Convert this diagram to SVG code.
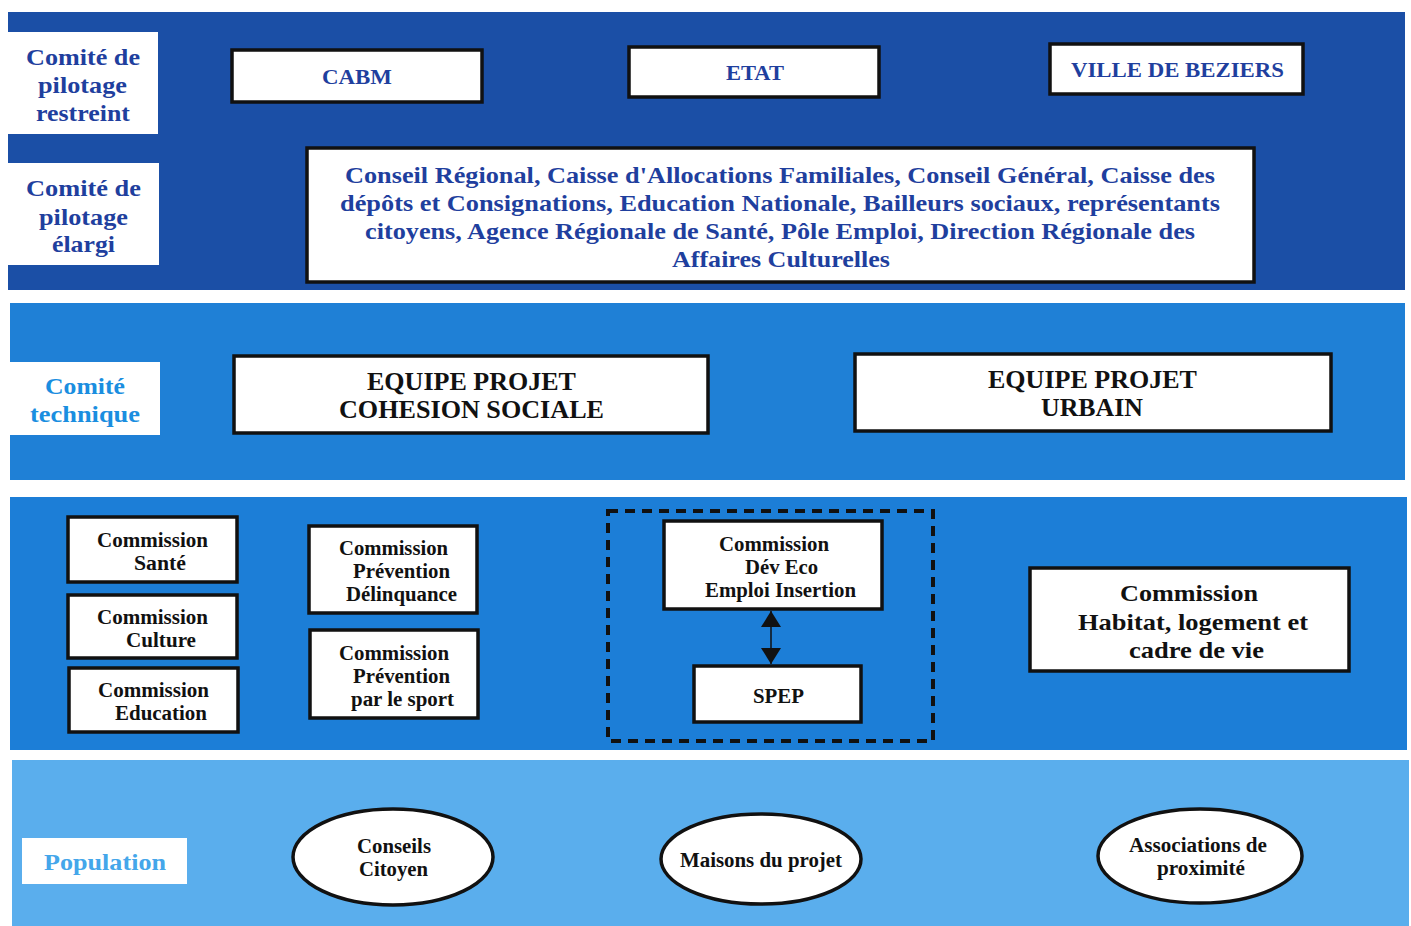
<svg xmlns="http://www.w3.org/2000/svg" width="1411" height="926" viewBox="0 0 1411 926">
<style>
.t{font-family:"Liberation Serif","Times New Roman",serif;font-weight:bold}
.bl{fill:#1f3f9e}
.bk{fill:#111}
.box{fill:#fff;stroke:#111;stroke-width:3.5}
.lab{fill:#fff}
</style>
<defs>
<marker id="ah" viewBox="0 0 10 10" refX="10" refY="5" markerWidth="16" markerHeight="20" markerUnits="userSpaceOnUse" orient="auto-start-reverse" preserveAspectRatio="none">
<path d="M0,0 L10,5 L0,10 z" fill="#111"/>
</marker>
</defs>
<rect width="1411" height="926" fill="#fff"/>
<g id="bands">
<rect x="8" y="12" width="1397" height="278" fill="#1b4fa6"/>
<rect x="10" y="303" width="1395" height="177" fill="#1f80d6"/>
<rect x="10" y="497" width="1397" height="253" fill="#1c7ed7"/>
<rect x="12" y="760" width="1397" height="166" fill="#5aaeed"/>
</g>
<g id="label-restreint">
<rect class="lab" x="8" y="32" width="150" height="102"/>
<text class="t bl" font-size="23"><tspan x="26" y="65" textLength="114" lengthAdjust="spacingAndGlyphs">Comité de</tspan><tspan x="38" y="93" textLength="89" lengthAdjust="spacingAndGlyphs">pilotage</tspan><tspan x="36" y="121" textLength="94" lengthAdjust="spacingAndGlyphs">restreint</tspan></text>
</g>
<g id="label-elargi">
<rect class="lab" x="8" y="163" width="151" height="102"/>
<text class="t bl" font-size="23"><tspan x="26" y="196" textLength="115" lengthAdjust="spacingAndGlyphs">Comité de</tspan><tspan x="39" y="225" textLength="89" lengthAdjust="spacingAndGlyphs">pilotage</tspan><tspan x="52" y="252" textLength="63" lengthAdjust="spacingAndGlyphs">élargi</tspan></text>
</g>
<g id="cabm">
<rect class="box" x="232" y="50" width="250" height="52"/>
<text class="t bl" font-size="21" x="322" y="84" textLength="70" lengthAdjust="spacingAndGlyphs">CABM</text>
</g>
<g id="etat">
<rect class="box" x="629" y="47" width="250" height="50"/>
<text class="t bl" font-size="21" x="726" y="80" textLength="58" lengthAdjust="spacingAndGlyphs">ETAT</text>
</g>
<g id="ville">
<rect class="box" x="1050" y="44" width="253" height="50"/>
<text class="t bl" font-size="21" x="1071" y="77" textLength="213" lengthAdjust="spacingAndGlyphs">VILLE DE BEZIERS</text>
</g>
<g id="partenaires">
<rect class="box" x="307" y="148" width="947" height="134"/>
<text class="t bl" font-size="23"><tspan x="345" y="183" textLength="870" lengthAdjust="spacingAndGlyphs">Conseil Régional, Caisse d'Allocations Familiales, Conseil Général, Caisse des</tspan><tspan x="340" y="211" textLength="880" lengthAdjust="spacingAndGlyphs">dépôts et Consignations, Education Nationale, Bailleurs sociaux, représentants</tspan><tspan x="365" y="239" textLength="830" lengthAdjust="spacingAndGlyphs">citoyens, Agence Régionale de Santé, Pôle Emploi, Direction Régionale des</tspan><tspan x="672" y="267" textLength="218" lengthAdjust="spacingAndGlyphs">Affaires Culturelles</tspan></text>
</g>
<g id="label-technique">
<rect class="lab" x="10" y="362" width="150" height="73"/>
<text class="t" fill="#1a8ee0" font-size="23"><tspan x="45" y="394" textLength="80" lengthAdjust="spacingAndGlyphs">Comité</tspan><tspan x="30" y="422" textLength="110" lengthAdjust="spacingAndGlyphs">technique</tspan></text>
</g>
<g id="equipe-cohesion">
<rect class="box" x="234" y="356" width="474" height="77"/>
<text class="t bk" font-size="25"><tspan x="367" y="390" textLength="209" lengthAdjust="spacingAndGlyphs">EQUIPE PROJET</tspan><tspan x="339" y="418" textLength="265" lengthAdjust="spacingAndGlyphs">COHESION SOCIALE</tspan></text>
</g>
<g id="equipe-urbain">
<rect class="box" x="855" y="354" width="476" height="77"/>
<text class="t bk" font-size="25"><tspan x="988" y="388" textLength="209" lengthAdjust="spacingAndGlyphs">EQUIPE PROJET</tspan><tspan x="1041" y="416" textLength="102" lengthAdjust="spacingAndGlyphs">URBAIN</tspan></text>
</g>
<g id="com-sante">
<rect class="box" x="68" y="517" width="169" height="65"/>
<text class="t bk" font-size="20"><tspan x="97" y="547" textLength="111" lengthAdjust="spacingAndGlyphs">Commission</tspan><tspan x="134" y="570" textLength="52" lengthAdjust="spacingAndGlyphs">Santé</tspan></text>
</g>
<g id="com-culture">
<rect class="box" x="68" y="595" width="169" height="63"/>
<text class="t bk" font-size="20"><tspan x="97" y="624" textLength="111" lengthAdjust="spacingAndGlyphs">Commission</tspan><tspan x="126" y="647" textLength="70" lengthAdjust="spacingAndGlyphs">Culture</tspan></text>
</g>
<g id="com-education">
<rect class="box" x="69" y="668" width="169" height="64"/>
<text class="t bk" font-size="20"><tspan x="98" y="697" textLength="111" lengthAdjust="spacingAndGlyphs">Commission</tspan><tspan x="115" y="720" textLength="92" lengthAdjust="spacingAndGlyphs">Education</tspan></text>
</g>
<g id="com-delinquance">
<rect class="box" x="309" y="526" width="168" height="87"/>
<text class="t bk" font-size="20"><tspan x="339" y="555" textLength="109" lengthAdjust="spacingAndGlyphs">Commission</tspan><tspan x="353" y="578" textLength="97" lengthAdjust="spacingAndGlyphs">Prévention</tspan><tspan x="346" y="601" textLength="111" lengthAdjust="spacingAndGlyphs">Délinquance</tspan></text>
</g>
<g id="com-sport">
<rect class="box" x="310" y="630" width="168" height="88"/>
<text class="t bk" font-size="20"><tspan x="339" y="660" textLength="110" lengthAdjust="spacingAndGlyphs">Commission</tspan><tspan x="353" y="683" textLength="97" lengthAdjust="spacingAndGlyphs">Prévention</tspan><tspan x="351" y="706" textLength="103" lengthAdjust="spacingAndGlyphs">par le sport</tspan></text>
</g>
<g id="groupe-emploi">
<rect x="608" y="511" width="325" height="230" fill="none" stroke="#111" stroke-width="4" stroke-dasharray="10 7"/>
</g>
<g id="com-deveco">
<rect class="box" x="664" y="521" width="218" height="88"/>
<text class="t bk" font-size="20"><tspan x="719" y="551" textLength="110" lengthAdjust="spacingAndGlyphs">Commission</tspan><tspan x="745" y="574" textLength="73" lengthAdjust="spacingAndGlyphs">Dév Eco</tspan><tspan x="705" y="597" textLength="151" lengthAdjust="spacingAndGlyphs">Emploi Insertion</tspan></text>
</g>
<g id="spep">
<rect class="box" x="694" y="666" width="167" height="56"/>
<text class="t bk" font-size="20" x="753" y="703" textLength="51" lengthAdjust="spacingAndGlyphs">SPEP</text>
</g>
<g id="com-habitat">
<rect class="box" x="1030" y="568" width="319" height="103"/>
<text class="t bk" font-size="23"><tspan x="1120" y="601" textLength="138" lengthAdjust="spacingAndGlyphs">Commission</tspan><tspan x="1078" y="630" textLength="230" lengthAdjust="spacingAndGlyphs">Habitat, logement et</tspan><tspan x="1129" y="658" textLength="135" lengthAdjust="spacingAndGlyphs">cadre de vie</tspan></text>
</g>
<g id="connectors">
<line x1="771" y1="611" x2="771" y2="664" stroke="#111" stroke-width="1.5" marker-start="url(#ah)" marker-end="url(#ah)"/>
</g>
<g id="label-population">
<rect class="lab" x="22" y="838" width="165" height="46"/>
<text class="t" fill="#44a6ea" font-size="23" x="44" y="870" textLength="122" lengthAdjust="spacingAndGlyphs">Population</text>
</g>
<g id="conseils-citoyen">
<ellipse cx="393" cy="857" rx="100" ry="48" fill="#fff" stroke="#111" stroke-width="3.5"/>
<text class="t bk" font-size="20"><tspan x="357" y="853" textLength="74" lengthAdjust="spacingAndGlyphs">Conseils</tspan><tspan x="359" y="876" textLength="69" lengthAdjust="spacingAndGlyphs">Citoyen</tspan></text>
</g>
<g id="maisons-projet">
<ellipse cx="761" cy="859" rx="100" ry="45" fill="#fff" stroke="#111" stroke-width="3.5"/>
<text class="t bk" font-size="20" x="680" y="867" textLength="162" lengthAdjust="spacingAndGlyphs">Maisons du projet</text>
</g>
<g id="associations">
<ellipse cx="1200" cy="856" rx="102" ry="47" fill="#fff" stroke="#111" stroke-width="3.5"/>
<text class="t bk" font-size="20"><tspan x="1129" y="852" textLength="138" lengthAdjust="spacingAndGlyphs">Associations de</tspan><tspan x="1157" y="875" textLength="88" lengthAdjust="spacingAndGlyphs">proximité</tspan></text>
</g>
</svg>
